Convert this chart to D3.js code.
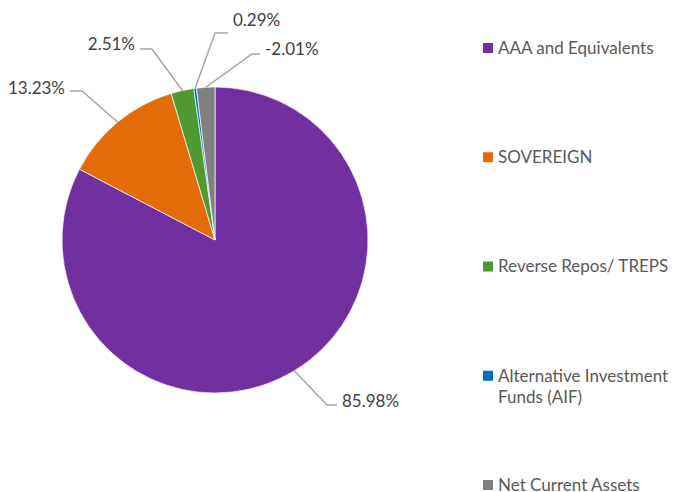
<!DOCTYPE html>
<html>
<head>
<meta charset="utf-8">
<script src="https://cdn.jsdelivr.net/npm/d3@7"></script>
<style>
  body { margin: 0; background: #fff; }
  text { font-family: Lato, "Open Sans", sans-serif; }
</style>
</head>
<body>
<div id="chart"></div>
<script>
// data
let categories = ["AAA and Equivalents", "SOVEREIGN", "Reverse Repos/ TREPS", "Alternative Investment Funds (AIF)", "Net Current Assets"];
let values = [85.98, 13.23, 2.51, 0.29, -2.01];
let colors = ["#7030A0", "#E36C09", "#4E9A2F", "#0070C0", "#808080"];
let legendLines = [["AAA and Equivalents"], ["SOVEREIGN"], ["Reverse Repos/ TREPS"], ["Alternative Investment", "Funds (AIF)"], ["Net Current Assets"]];

let width = 674;
let height = 492;
let cx = 215, cy = 240, radius = 153;

// label layout: elbow offset from centre, horizontal run, text side
let labelLayout = [
  { ex: 112, ey: 165, run: 10, side: 1, dy: -4 },
  { ex: -133, ey: -149, run: -12, side: -1, dy: -3 },
  { ex: -63, ey: -191, run: -12, side: -1, dy: -5 },
  { ex: 0, ey: -207, run: 13, side: 1, dy: -13 },
  { ex: 37, ey: -186, run: 8, side: 1, dy: -5 }
];

let svg = d3.select("#chart").append("svg")
  .attr("width", width)
  .attr("height", height);

let pie = d3.pie()
  .value(d => Math.abs(d))
  .sort(null);

let arc = d3.arc().innerRadius(0).outerRadius(radius);

let arcs = pie(values);

let g = svg.append("g").attr("transform", `translate(${cx},${cy})`);

g.selectAll(".slice")
  .data(arcs)
  .enter()
  .append("path")
  .attr("class", "slice")
  .attr("d", arc)
  .attr("fill", (d, i) => colors[i])
  .attr("stroke", "#fff")
  .attr("stroke-width", 0.7);

// leader lines + labels
arcs.forEach((d, i) => {
  let mid = (d.startAngle + d.endAngle) / 2;
  let sx = radius * Math.sin(mid);
  let sy = -radius * Math.cos(mid);
  let L = labelLayout[i];
  let endX = L.ex + L.run;
  g.append("polyline")
    .attr("points", `${sx},${sy} ${L.ex},${L.ey} ${endX},${L.ey}`)
    .attr("fill", "none")
    .attr("stroke", "#A6A6A6")
    .attr("stroke-width", 1.5);
  g.append("text")
    .attr("x", endX + L.side * 5)
    .attr("y", L.ey + L.dy)
    .attr("dy", "0.35em")
    .attr("text-anchor", L.side > 0 ? "start" : "end")
    .attr("fill", "#404040")
    .style("font-size", "17px")
    .text(values[i].toFixed(2) + "%");
});

// legend
let legendY = d3.scalePoint()
  .domain(categories)
  .range([48, 485]);

let legend = svg.append("g").attr("class", "legend");
categories.forEach((c, i) => {
  let y = legendY(c);
  legend.append("rect")
    .attr("x", 483)
    .attr("y", y - 5)
    .attr("width", 10)
    .attr("height", 10)
    .attr("fill", colors[i]);
  legendLines[i].forEach((line, j) => {
    legend.append("text")
      .attr("x", 498)
      .attr("y", y + j * 21)
      .attr("dy", "0.35em")
      .attr("fill", "#595959")
      .style("font-size", "17px")
      .text(line);
  });
});
</script>
</body>
</html>
